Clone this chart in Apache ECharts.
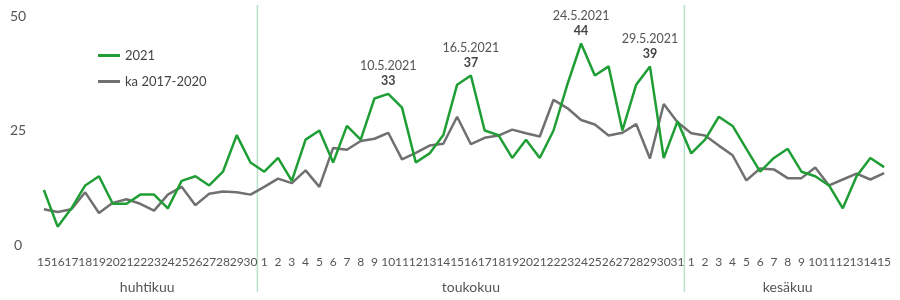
<!DOCTYPE html>
<html><head><meta charset="utf-8">
<script src="https://cdn.jsdelivr.net/npm/echarts@6/dist/echarts.min.js"></script>
<style>html,body{margin:0;padding:0;background:#fff}#c{width:900px;height:300px}</style>
</head><body><div id="c"></div>
<script>
const aprDays = ['15','16','17','18','19','20','21','22','23','24','25','26','27','28','29','30'];
const mayDays = ['1','2','3','4','5','6','7','8','9','10','11','12','13','14','15','16','17','18','19','20','21','22','23','24','25','26','27','28','29','30','31'];
const junDays = ['1','2','3','4','5','6','7','8','9','10','11','12','13','14','15'];
const months = ['huhtikuu','toukokuu','kesäkuu'];
const yTicks = [0, 25, 50];
const s2021 = [12,4,8,13,15,9,9,11,11,8,14,15,13,16,24,18,
  16,19,14,23,25,18,26,23,32,33,30,18,20,24,35,37,25,24,19,23,19,25,35,44,37,39,25,35,39,19,27,
  20,23,28,26,21,16,19,21,16,15,13,8,15,19,17];
const sAvg = [7.8,7.2,7.8,11.5,7,9.2,10,9,7.5,11,12.7,8.7,11.2,11.7,11.5,11,
  12.7,14.5,13.5,16.3,12.7,21.2,20.8,22.7,23.2,24.5,18.7,20.1,21.7,22.1,28,22,23.4,23.9,25.2,24.4,23.7,31.7,29.9,27.3,26.3,23.9,24.5,26.4,18.9,30.8,26.8,
  24.4,23.9,21.7,19.6,14.1,16.7,16.5,14.6,14.6,16.9,13,14.3,15.6,14.3,15.7];
const annotations = {25:'10.5.2021',31:'16.5.2021',39:'24.5.2021',44:'29.5.2021'};

const cats = aprDays.concat(mayDays, junDays);
const green = '#1f9e35', gray = '#707070';
const chart = echarts.init(document.getElementById('c'));
const d2021 = s2021.map((v,i)=> annotations[i] ? {value:v,label:{show:true,position:'top',distance:5,
  formatter:'{d|'+annotations[i]+'}\n{v|'+v+'}',
  rich:{d:{fontSize:12.5,color:'#555',fontFamily:'Lato',lineHeight:15,align:'center'},
        v:{fontSize:12.5,color:'#444',fontWeight:'bold',fontFamily:'Lato',lineHeight:15,align:'center'}}}} : v);
chart.setOption({
  animation:false,
  textStyle:{fontFamily:'Lato'},
  grid:{left:37,right:9,top:16,bottom:55},
  legend:{orient:'vertical',left:93,top:44,itemGap:13,icon:'rect',itemWidth:22,itemHeight:3,
    textStyle:{fontSize:13,color:'#444',fontFamily:'Lato'},
    data:['2021','ka 2017-2020']},
  xAxis:{type:'category',data:cats,boundaryGap:true,
    axisLine:{show:false},axisTick:{show:false},
    axisLabel:{interval:0,fontSize:12,color:'#555',margin:11,fontFamily:'Lato'}},
  yAxis:{type:'value',min:0,max:50,interval:25,splitLine:{show:false},
    axisLine:{show:false},axisTick:{show:false},
    axisLabel:{fontSize:14,color:'#555',align:'center',margin:19,
      formatter:v=>yTicks.includes(v)?String(v):''}},
  series:[
    {name:'ka 2017-2020',type:'line',data:sAvg,symbol:'none',lineStyle:{color:gray,width:2.5},itemStyle:{color:gray},z:2},
    {name:'2021',type:'line',data:d2021,symbol:'circle',symbolSize:0.01,showSymbol:true,lineStyle:{color:green,width:2.5},itemStyle:{color:green},z:3}
  ]
});
const bounds = [[0,aprDays.length-1],[aprDays.length,aprDays.length+mayDays.length-1],[aprDays.length+mayDays.length,cats.length-1]];
const g = [];
bounds.forEach((b,k)=>{
  const x0 = chart.convertToPixel({xAxisIndex:0},b[0]);
  const x1 = chart.convertToPixel({xAxisIndex:0},b[1]);
  g.push({type:'text',x:(x0+x1)/2,y:287,style:{text:months[k],fill:'#555',font:'14px Lato',align:'center',verticalAlign:'middle'}});
  if(k>0){
    const xp = chart.convertToPixel({xAxisIndex:0},b[0]-1);
    const xs = (xp+x0)/2;
    g.push({type:'line',shape:{x1:xs,y1:5,x2:xs,y2:292},style:{stroke:'#b8e2c8',lineWidth:1.5},z:0});
  }
});
chart.setOption({graphic:g});
</script></body></html>
